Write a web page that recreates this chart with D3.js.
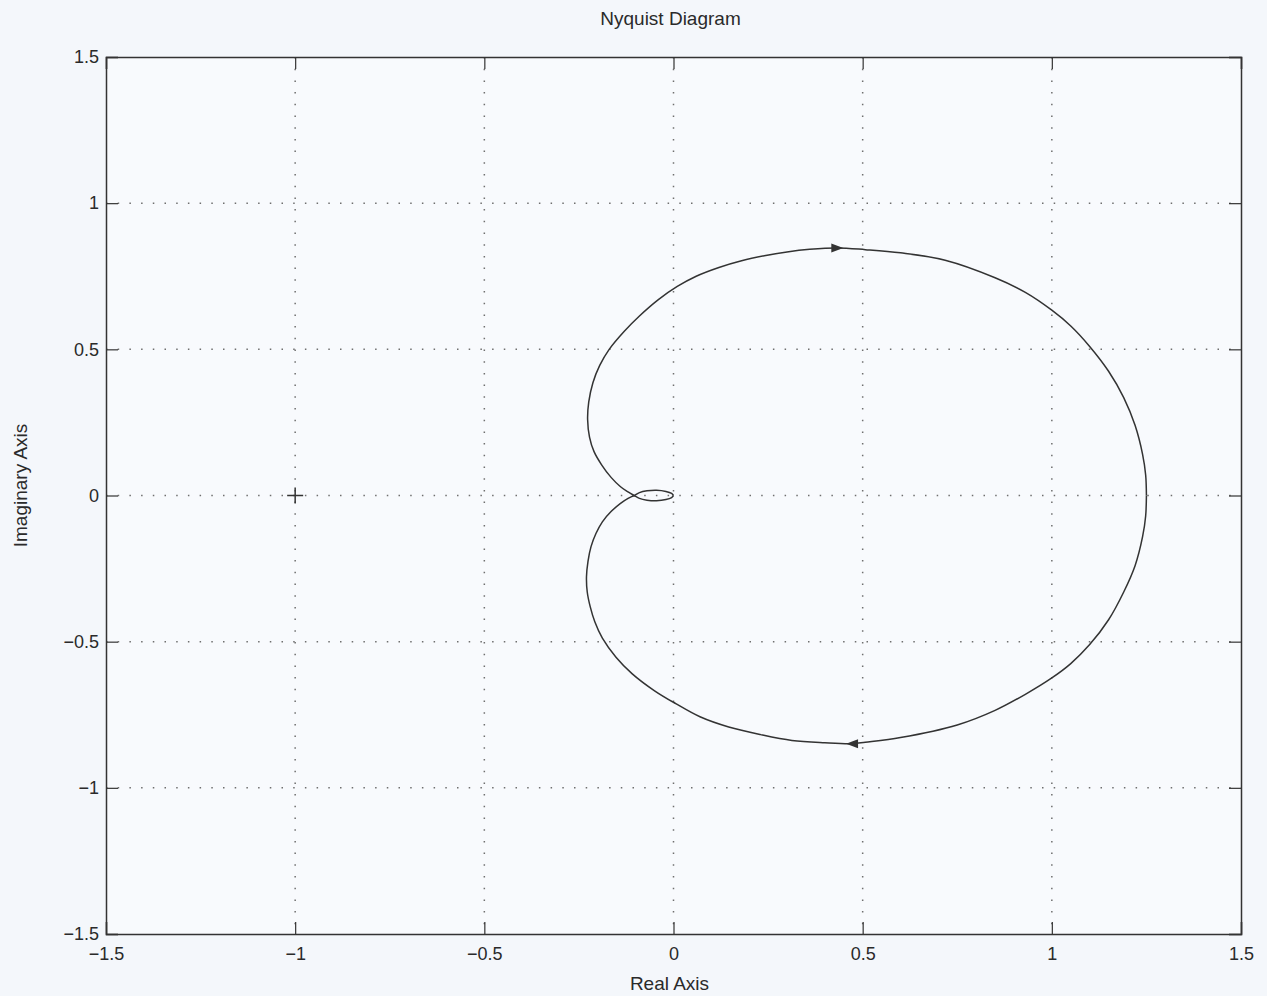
<!DOCTYPE html>
<html>
<head>
<meta charset="utf-8">
<script src="https://cdn.jsdelivr.net/npm/d3@7"></script>
<style>
	body { margin: 0; background: #f4f7fb; }
	text { font-family: "Liberation Sans", Arial, sans-serif; fill: #2a2a2a; }
</style>
</head>
<body>
<div id="viz"></div>
<script>
// axis ticks
var xTicks = [-1.5, -1, -0.5, 0, 0.5, 1, 1.5];
var yTicks = [-1.5, -1, -0.5, 0, 0.5, 1, 1.5];

// positive frequency branch (lower half)
var lowerRe = [1.250, 1.248, 1.240, 1.220, 1.190, 1.150, 1.100, 1.050, 1.000, 0.930, 0.850, 0.750, 0.600, 0.507, 0.472, 0.400, 0.313, 0.230, 0.146, 0.070, 0.006, -0.050, -0.109, -0.152, -0.188, -0.208, -0.220, -0.228, -0.230, -0.226, -0.218, -0.205, -0.188, -0.165, -0.140, -0.120, -0.104, -0.090, -0.070, -0.045, -0.020, -0.005, 0];
var lowerIm = [0, -0.070, -0.140, -0.240, -0.330, -0.425, -0.510, -0.575, -0.624, -0.680, -0.735, -0.785, -0.828, -0.844, -0.849, -0.846, -0.838, -0.818, -0.792, -0.757, -0.712, -0.668, -0.610, -0.553, -0.488, -0.432, -0.381, -0.330, -0.278, -0.225, -0.175, -0.130, -0.090, -0.055, -0.027, -0.010, 0, 0.010, 0.016, 0.018, 0.014, 0.007, 0];

// negative frequency branch (upper half)
var upperRe = [1.250, 1.248, 1.240, 1.220, 1.190, 1.150, 1.100, 1.050, 1.000, 0.930, 0.850, 0.718, 0.600, 0.507, 0.433, 0.360, 0.300, 0.240, 0.180, 0.120, 0.060, 0.010, -0.040, -0.090, -0.130, -0.170, -0.195, -0.213, -0.224, -0.227, -0.222, -0.210, -0.190, -0.165, -0.140, -0.120, -0.104, -0.090, -0.070, -0.045, -0.020, -0.005, 0];
var upperIm = [0, 0.070, 0.140, 0.240, 0.335, 0.425, 0.510, 0.580, 0.634, 0.695, 0.745, 0.805, 0.830, 0.841, 0.847, 0.842, 0.833, 0.820, 0.803, 0.780, 0.750, 0.715, 0.670, 0.614, 0.562, 0.500, 0.445, 0.386, 0.320, 0.260, 0.200, 0.150, 0.105, 0.062, 0.030, 0.012, 0, -0.010, -0.016, -0.018, -0.014, -0.007, 0];

// direction arrows on the curve
var arrowRe = [0.433, 0.472];
var arrowIm = [0.847, -0.849];
var arrowDir = [1, -1];

// critical point
var critRe = [-1];
var critIm = [0];

var w = 1267,
	h = 996,
	margin = {top: 57, right: 26, bottom: 62, left: 106};

var width = w - margin.left - margin.right,
	height = h - margin.top - margin.bottom;

var svg = d3.select('#viz')
	.append('svg')
	.attr('width', w)
	.attr('height', h);

var x = d3.scaleLinear().domain([-1.5, 1.5]).range([0, width]);
var y = d3.scaleLinear().domain([-1.5, 1.5]).range([height, 0]);

var g = svg.append('g')
	.attr('transform', 'translate(' + margin.left + ',' + margin.top + ')');

g.append('rect')
	.attr('width', width)
	.attr('height', height)
	.style('fill', '#f8fafd');

// dotted grid
g.append('g')
	.selectAll('line')
	.data(xTicks.slice(1, -1))
	.enter().append('line')
	.attr('x1', function (d) { return x(d); })
	.attr('x2', function (d) { return x(d); })
	.attr('y1', 0)
	.attr('y2', height)
	.style('stroke', '#6f6f6f')
	.style('stroke-width', 1.5)
	.style('stroke-dasharray', '1.5,10.2');

g.append('g')
	.selectAll('line')
	.data(yTicks.slice(1, -1))
	.enter().append('line')
	.attr('y1', function (d) { return y(d); })
	.attr('y2', function (d) { return y(d); })
	.attr('x1', 0)
	.attr('x2', width)
	.style('stroke', '#6f6f6f')
	.style('stroke-width', 1.5)
	.style('stroke-dasharray', '1.5,10.2');

// axes with inward ticks on all sides
var fmt = function (d) { return d3.format('')(d); };

var xAxis = g.append('g')
	.attr('transform', 'translate(0,' + height + ')')
	.call(d3.axisBottom(x).tickValues(xTicks).tickSize(-12).tickPadding(13).tickFormat(fmt));
var xTop = g.append('g')
	.call(d3.axisTop(x).tickValues(xTicks).tickSize(-12).tickFormat(''));
var yAxis = g.append('g')
	.call(d3.axisLeft(y).tickValues(yTicks).tickSize(-12).tickPadding(7).tickFormat(fmt));
var yRight = g.append('g')
	.attr('transform', 'translate(' + width + ',0)')
	.call(d3.axisRight(y).tickValues(yTicks).tickSize(-12).tickFormat(''));

[xAxis, xTop, yAxis, yRight].forEach(function (a) {
	a.selectAll('path.domain').style('stroke', '#333').style('stroke-width', 1.5);
	a.selectAll('.tick line').style('stroke', '#333').style('stroke-width', 1.2);
	a.selectAll('.tick text')
		.style('font-family', '"Liberation Sans", Arial, sans-serif')
		.style('font-size', '18px')
		.style('fill', '#2a2a2a');
});

// nyquist curve
var line = d3.line()
	.x(function (d) { return x(d[0]); })
	.y(function (d) { return y(d[1]); })
	.curve(d3.curveCatmullRom.alpha(0.5));

var branches = [
	d3.zip(lowerRe, lowerIm),
	d3.zip(upperRe, upperIm)
];

g.selectAll('.branch')
	.data(branches)
	.enter().append('path')
	.attr('class', 'branch')
	.attr('d', line)
	.style('fill', 'none')
	.style('stroke', '#333')
	.style('stroke-width', 1.5);

// arrows
g.selectAll('.arrow')
	.data(d3.range(arrowRe.length))
	.enter().append('path')
	.attr('class', 'arrow')
	.attr('transform', function (i) {
		return 'translate(' + x(arrowRe[i]) + ',' + y(arrowIm[i]) + ')' +
			(arrowDir[i] < 0 ? 'rotate(180)' : '');
	})
	.attr('d', 'M6,0L-6,-4.5L-6,4.5Z')
	.style('fill', '#333');

// critical point marker
g.selectAll('.crit')
	.data(d3.range(critRe.length))
	.enter().append('path')
	.attr('class', 'crit')
	.attr('d', function (i) {
		var cx = x(critRe[i]), cy = y(critIm[i]);
		return 'M' + (cx - 8) + ',' + cy + 'H' + (cx + 8) +
			'M' + cx + ',' + (cy - 8) + 'V' + (cy + 8);
	})
	.style('stroke', '#333')
	.style('stroke-width', 1.5);

// titles
svg.append('text')
	.attr('x', margin.left + width / 2 - 3)
	.attr('y', 25)
	.attr('text-anchor', 'middle')
	.style('font-size', '19px')
	.text('Nyquist Diagram');

svg.append('text')
	.attr('x', margin.left + width / 2 - 4)
	.attr('y', 990)
	.attr('text-anchor', 'middle')
	.style('font-size', '19px')
	.text('Real Axis');

svg.append('text')
	.attr('transform', 'translate(27,' + (margin.top + height / 2 - 10) + ')rotate(-90)')
	.attr('text-anchor', 'middle')
	.style('font-size', '19px')
	.text('Imaginary Axis');
</script>
</body>
</html>
